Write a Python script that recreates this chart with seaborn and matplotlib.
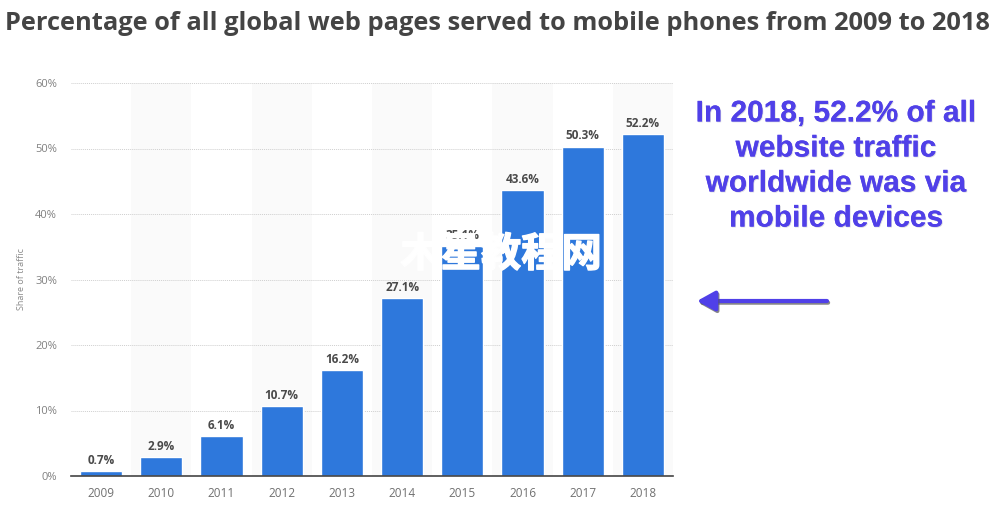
import matplotlib
matplotlib.use('Agg')
import matplotlib.pyplot as plt
import matplotlib.patheffects as pe
import pandas as pd
import seaborn as sns

years = ['2009', '2010', '2011', '2012', '2013', '2014', '2015', '2016', '2017', '2018']
share = [0.7, 2.9, 6.1, 10.7, 16.2, 27.1, 35.1, 43.6, 50.3, 52.2]
y_ticks = [0, 10, 20, 30, 40, 50, 60]

title = 'Percentage of all global web pages served to mobile phones from 2009 to 2018'
note = 'In 2018, 52.2% of all\nwebsite traffic\nworldwide was via\nmobile devices'
watermark = '木星教程网'

W, H = 997, 508

sns.set_theme(style='white')
plt.rcParams['font.family'] = ['Open Sans', 'Noto Sans CJK SC', 'DejaVu Sans']

df = pd.DataFrame({'year': years, 'share': share})

fig = plt.figure(figsize=(W / 100, H / 100), dpi=100, facecolor='white')
ax = fig.add_axes([71 / W, 1 - 476 / H, (673 - 71) / W, (476 - 83) / H])

sns.barplot(data=df, x='year', y='share', color='#2e78dc', saturation=1, width=0.7, ax=ax, zorder=3)

# alternating background bands
for i in range(1, len(years), 2):
    ax.axvspan(i - 0.5, i + 0.5, color='#fafafa', lw=0, zorder=0)

ax.set_xlim(-0.5, len(years) - 0.5)
ax.set_ylim(0, 60)
ax.set_yticks(y_ticks)
ax.set_yticklabels([f'{v}%' for v in y_ticks])
ax.yaxis.grid(True, color='#cfcfcf', linestyle=(0, (1, 1)), linewidth=0.7, zorder=1)
ax.xaxis.grid(False)
ax.set_axisbelow(True)
ax.set_xlabel('')
ax.set_ylabel('Share of traffic', fontsize=6.5, color='#8a8a8a', labelpad=7)

for side in ['top', 'left', 'right']:
    ax.spines[side].set_visible(False)
ax.spines['bottom'].set_color('#444444')
ax.spines['bottom'].set_linewidth(1.2)
ax.spines['bottom'].set_zorder(4)
ax.tick_params(axis='x', length=0, labelsize=8.5, labelcolor='#707070', pad=8)
ax.tick_params(axis='y', length=0, labelsize=8, labelcolor='#808080', pad=10)

ax.bar_label(ax.containers[0], labels=[f'{v}%' for v in share], padding=3,
             fontsize=8.5, fontweight='bold', color='#4a4a4a')

fig.text(497 / W, 1 - 24 / H, title, ha='center', va='center', fontsize=18.3,
         fontweight='bold', color='#444444')

# note + arrow on the right
shadow = [pe.withSimplePatchShadow(offset=(0.6, -0.6), shadow_rgbFace='#9a9ab0', alpha=0.4), pe.Normal()]
fig.text(836 / W, 1 - 166 / H, note, ha='center', va='center', fontsize=21.5,
         family='Liberation Sans', fontweight='bold', color='#5040e8',
         linespacing=1.32, path_effects=shadow)

arrow = ax.annotate('', xy=(697 / W, 1 - 301 / H), xytext=(827 / W, 1 - 301 / H),
                    xycoords='figure fraction', textcoords='figure fraction',
                    arrowprops=dict(arrowstyle='-|>,head_length=0.9,head_width=0.5', color='#5040e8',
                                    lw=3, shrinkA=0, shrinkB=0), annotation_clip=False)
arrow.arrow_patch.set_path_effects([pe.SimpleLineShadow(offset=(0.8, -1.2), shadow_color='#555555', alpha=0.7), pe.Normal()])

fig.text(501 / W, 1 - 255 / H, watermark, ha='center', va='center', fontsize=29,
         fontweight='bold', color='white', family=['Noto Sans CJK SC', 'DejaVu Sans'],
         path_effects=[pe.withStroke(linewidth=1, foreground='white')])

fig.savefig('out.png', dpi=100)
